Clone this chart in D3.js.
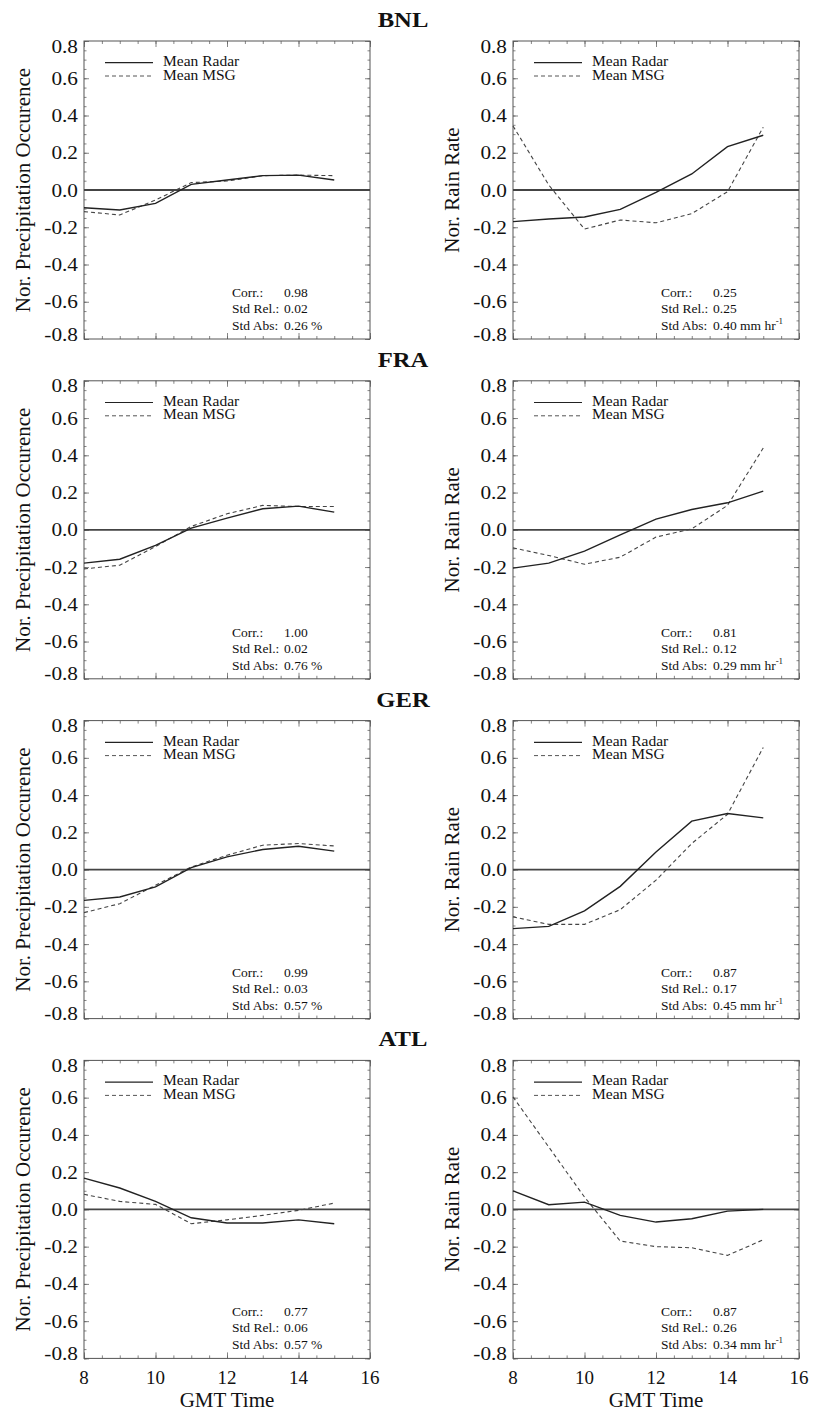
<!DOCTYPE html>
<html lang="en">
<head>
<meta charset="UTF-8">
<title>Normalised diurnal cycle</title>
<script src="https://cdnjs.cloudflare.com/ajax/libs/d3/7.8.5/d3.min.js"></script>
<style>
  body { margin: 0; background: #fff; }
  svg text { font-family: "Liberation Serif", "Times New Roman", serif; fill: #111; }
</style>
</head>
<body>
<svg id="chart" width="813" height="1413"></svg>
<script>
// hours of the day (GMT) and the four regions
var hours = [8, 9, 10, 11, 12, 13, 14, 15];
var regions = ["BNL", "FRA", "GER", "ATL"];
var xTicks = [8, 10, 12, 14, 16];
var yTicks = [-0.8, -0.6, -0.4, -0.2, 0.0, 0.2, 0.4, 0.6, 0.8];
var occLabel = "Nor. Precipitation Occurence";
var rainLabel = "Nor. Rain Rate";

// normalised precipitation occurence
var bnlOccRadar = [-0.095, -0.107, -0.072, 0.030, 0.054, 0.077, 0.080, 0.054];
var bnlOccMsg   = [-0.116, -0.134, -0.054, 0.040, 0.048, 0.077, 0.080, 0.077];
var fraOccRadar = [-0.179, -0.158, -0.084, 0.009, 0.063, 0.113, 0.127, 0.095];
var fraOccMsg   = [-0.210, -0.190, -0.090, 0.018, 0.086, 0.131, 0.125, 0.125];
var gerOccRadar = [-0.165, -0.147, -0.093, 0.011, 0.068, 0.108, 0.125, 0.099];
var gerOccMsg   = [-0.231, -0.183, -0.084, 0.014, 0.077, 0.131, 0.140, 0.127];
var atlOccRadar = [0.168, 0.115, 0.043, -0.045, -0.073, -0.073, -0.056, -0.077];
var atlOccMsg   = [0.081, 0.043, 0.027, -0.077, -0.056, -0.032, -0.005, 0.034];

// normalised rain rate
var bnlRainRadar = [-0.170, -0.156, -0.145, -0.104, -0.013, 0.086, 0.233, 0.294];
var bnlRainMsg   = [0.344, 0.027, -0.210, -0.161, -0.176, -0.127, -0.009, 0.337];
var fraRainRadar = [-0.206, -0.179, -0.115, -0.027, 0.057, 0.109, 0.145, 0.208];
var fraRainMsg   = [-0.097, -0.138, -0.185, -0.147, -0.039, 0.005, 0.131, 0.439];
var gerRainRadar = [-0.317, -0.305, -0.222, -0.090, 0.095, 0.260, 0.301, 0.278];
var gerRainMsg   = [-0.254, -0.294, -0.294, -0.215, -0.057, 0.140, 0.297, 0.656];
var atlRainRadar = [0.099, 0.025, 0.039, -0.032, -0.068, -0.050, -0.009, 0.000];
var atlRainMsg   = [0.604, 0.335, 0.066, -0.170, -0.200, -0.206, -0.247, -0.163];

// statistics printed in each panel
var occCorr = ["0.98", "1.00", "0.99", "0.77"];
var occRel  = ["0.02", "0.02", "0.03", "0.06"];
var occAbs  = ["0.26", "0.76", "0.57", "0.57"];
var rainCorr = ["0.25", "0.81", "0.87", "0.87"];
var rainRel  = ["0.25", "0.12", "0.17", "0.26"];
var rainAbs  = ["0.40", "0.29", "0.45", "0.34"];

var occRadar = [bnlOccRadar, fraOccRadar, gerOccRadar, atlOccRadar];
var occMsg = [bnlOccMsg, fraOccMsg, gerOccMsg, atlOccMsg];
var rainRadar = [bnlRainRadar, fraRainRadar, gerRainRadar, atlRainRadar];
var rainMsg = [bnlRainMsg, fraRainMsg, gerRainMsg, atlRainMsg];

var colLeft = [84, 513],
    plotW = 286,
    plotH = 298,
    firstTop = 41,
    rowStep = 339.8,
    stretch = 1.12;

var svg = d3.select("#chart");
svg.append("rect").attr("width", 813).attr("height", 1413).attr("fill", "#fff");

var x = d3.scaleLinear().domain([8, 16]).range([0, plotW]);
var y = d3.scaleLinear().domain([-0.8, 0.8]).range([plotH, 0]);

var line = d3.line()
    .x(function(d, i) { return x(hours[i]); })
    .y(function(d) { return y(d); });

regions.forEach(function(region, r) {
    var top = firstTop + r * rowStep;

    svg.append("text")
        .attr("transform", "translate(403," + (top - 14) + ") scale(" + stretch + ",1)")
        .attr("text-anchor", "middle")
        .style("font-size", "22px")
        .style("font-weight", "bold")
        .text(region);

    [0, 1].forEach(function(c) {
        var g = svg.append("g")
            .attr("transform", "translate(" + colLeft[c] + "," + top + ")");
        var radar = c === 0 ? occRadar[r] : rainRadar[r];
        var msg = c === 0 ? occMsg[r] : rainMsg[r];

        // minor and major ticks, all pointing into the box
        var minorX = d3.range(8, 16.01, 0.5), minorY = d3.range(-0.8, 0.801, 0.05);
        g.append("g").attr("transform", "translate(0," + plotH + ")")
            .call(d3.axisBottom(x).tickValues(minorX).tickSize(-3).tickFormat(""));
        g.append("g").call(d3.axisTop(x).tickValues(minorX).tickSize(-3).tickFormat(""));
        g.append("g").call(d3.axisLeft(y).tickValues(minorY).tickSize(-2.5).tickFormat(""));
        g.append("g").attr("transform", "translate(" + plotW + ",0)")
            .call(d3.axisRight(y).tickValues(minorY).tickSize(-2.5).tickFormat(""));
        g.append("g").attr("transform", "translate(0," + plotH + ")")
            .call(d3.axisBottom(x).tickValues(xTicks).tickSize(-6).tickFormat(""));
        g.append("g").call(d3.axisTop(x).tickValues(xTicks).tickSize(-6).tickFormat(""));
        g.append("g").call(d3.axisLeft(y).tickValues(yTicks).tickSize(-5).tickFormat(""));
        g.append("g").attr("transform", "translate(" + plotW + ",0)")
            .call(d3.axisRight(y).tickValues(yTicks).tickSize(-5).tickFormat(""));
        g.selectAll(".domain").remove();
        g.selectAll(".tick line").attr("stroke", "#666").attr("stroke-width", 0.8);

        g.append("rect")
            .attr("width", plotW).attr("height", plotH)
            .attr("fill", "none").attr("stroke", "#555").attr("stroke-width", 1);

        // y tick labels, the end ones pulled inside
        g.selectAll(".ylab").data(yTicks).enter().append("text")
            .attr("transform", function(d) {
                var nudge = d === 0.8 ? 5 : (d === -0.8 ? -5 : 0);
                return "translate(-6," + (y(d) + 6.5 + nudge) + ") scale(" + stretch + ",1)";
            })
            .attr("text-anchor", "end")
            .style("font-size", "19px")
            .text(function(d) { return d.toFixed(1); });

        // zero line
        g.append("line")
            .attr("x1", 0).attr("x2", plotW)
            .attr("y1", y(0)).attr("y2", y(0))
            .attr("stroke", "#444").attr("stroke-width", 1.8);

        g.append("path").datum(msg)
            .attr("d", line).attr("fill", "none")
            .attr("stroke", "#444").attr("stroke-width", 1.1)
            .attr("stroke-dasharray", "4,3");
        g.append("path").datum(radar)
            .attr("d", line).attr("fill", "none")
            .attr("stroke", "#222").attr("stroke-width", 1.4);

        // legend
        g.append("line").attr("x1", 21).attr("x2", 69).attr("y1", 21.7).attr("y2", 21.7)
            .attr("stroke", "#222").attr("stroke-width", 1.2);
        g.append("line").attr("x1", 21).attr("x2", 69).attr("y1", 35).attr("y2", 35)
            .attr("stroke", "#555").attr("stroke-width", 1).attr("stroke-dasharray", "4,3");
        g.append("text").attr("x", 79).attr("y", 25).style("font-size", "15.5px").text("Mean Radar");
        g.append("text").attr("x", 79).attr("y", 38.5).style("font-size", "15.5px").text("Mean MSG");

        // statistics
        var names = ["Corr.:", "Std Rel.:", "Std Abs:"];
        var vals = c === 0 ? [occCorr[r], occRel[r], occAbs[r]] : [rainCorr[r], rainRel[r], rainAbs[r]];
        var base = [256, 272, 289];
        names.forEach(function(n, k) {
            g.append("text").attr("x", 148).attr("y", base[k]).style("font-size", "13.5px").text(n);
            var t = g.append("text").attr("x", 200).attr("y", base[k]).style("font-size", "13.5px");
            if (k < 2) {
                t.text(vals[k]);
            } else if (c === 0) {
                t.text(vals[k] + " %");
            } else {
                t.append("tspan").text(vals[k] + " mm hr");
                t.append("tspan").attr("dy", -6).style("font-size", "9px").text("-1");
            }
        });

        // axis title on the left
        g.append("text")
            .attr("transform", "translate(-54," + (plotH / 2) + ") rotate(-90)")
            .attr("text-anchor", "middle")
            .style("font-size", "21px")
            .text(c === 0 ? occLabel : rainLabel);

        // time axis labels only on the last row
        if (r === regions.length - 1) {
            g.selectAll(".xlab").data(xTicks).enter().append("text")
                .attr("x", function(d) { return x(d); })
                .attr("y", plotH + 26)
                .attr("text-anchor", "middle")
                .style("font-size", "19px")
                .text(function(d) { return d; });
            g.append("text")
                .attr("x", plotW / 2).attr("y", plotH + 49)
                .attr("text-anchor", "middle")
                .style("font-size", "21px")
                .text("GMT Time");
        }
    });
});
</script>
</body>
</html>
